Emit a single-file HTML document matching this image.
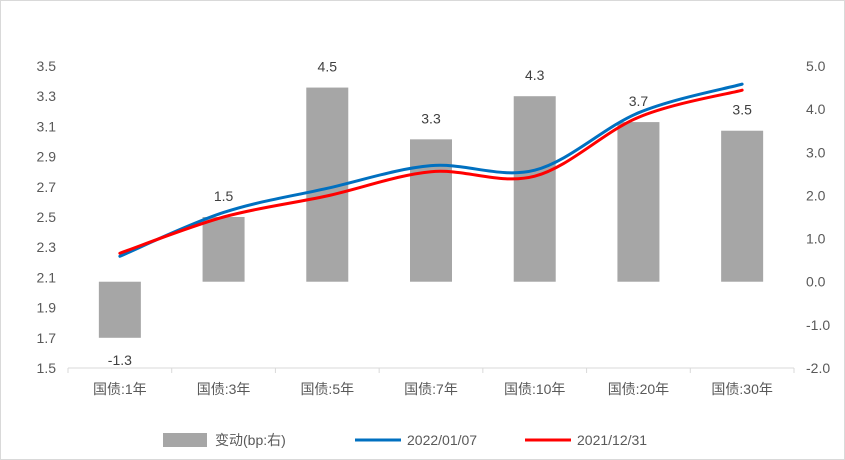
<!DOCTYPE html>
<html><head><meta charset="utf-8"><style>
body{margin:0;background:#fff;}
svg{display:block;font-family:"Liberation Sans","Noto Sans CJK SC",sans-serif;}
</style></head><body>
<svg id="c" width="845" height="460">
<rect x="0.5" y="0.5" width="844" height="459" fill="#fff" stroke="#d9d9d9"/>
<g id="g"></g>
</svg>
<script>
const categories=["国债:1年","国债:3年","国债:5年","国债:7年","国债:10年","国债:20年","国债:30年"];
const changeBp=[-1.3,1.5,4.5,3.3,4.3,3.7,3.5];
const yield20220107=[2.24,2.53,2.69,2.84,2.81,3.19,3.38];
const yield20211231=[2.26,2.50,2.64,2.80,2.77,3.16,3.34];
const leftTicks=[1.5,1.7,1.9,2.1,2.3,2.5,2.7,2.9,3.1,3.3,3.5];
const rightTicks=[-2.0,-1.0,0.0,1.0,2.0,3.0,4.0,5.0];
const NS="http://www.w3.org/2000/svg";
const g=document.getElementById('g');
const x0=68,x1=794,yT=66,yB=368;
const band=(x1-x0)/categories.length;
const xc=i=>x0+band*(i+0.5);
const yL=v=>yB-(v-1.5)/(3.5-1.5)*(yB-yT);
const yR=v=>yB-(v+2)/(5+2)*(yB-yT);
function mk(t,a,txt){const e=document.createElementNS(NS,t);for(const k in a)e.setAttribute(k,a[k]);if(txt!==undefined)e.textContent=txt;g.appendChild(e);return e;}
// x axis line
let ax=mk('line',{x1:x0,x2:x1,y1:yB,y2:yB,stroke:'#d9d9d9'});


for(let i=0;i<=categories.length;i++){const t=mk('line',{x1:x0+band*i,x2:x0+band*i,y1:yB,y2:yB+5,stroke:'#d9d9d9'});

}
leftTicks.forEach(v=>{const t=mk('text',{x:56,y:yL(v)+5,'text-anchor':'end','font-size':14,fill:'#595959'},v.toFixed(1));

});
rightTicks.forEach(v=>{const t=mk('text',{x:806,y:yR(v)+5,'font-size':14,fill:'#595959'},v.toFixed(1));

});
categories.forEach((c,i)=>{const t=mk('text',{x:xc(i),y:yB+26,'text-anchor':'middle','font-size':14,fill:'#595959'},c);

});
const bw=42;
changeBp.forEach((v,i)=>{const y0=yR(0),y=yR(v);
const r=mk('rect',{x:xc(i)-bw/2,y:Math.min(y0,y),width:bw,height:Math.abs(y-y0),fill:'#a6a6a6'});


const ly=v>=0?y-16:y+27;
const t=mk('text',{x:xc(i),y:ly,'text-anchor':'middle','font-size':14,fill:'#404040'},v.toFixed(1));

});
function smooth(vals){const p=vals.map((v,i)=>[xc(i),yL(v)]);let d=`M${p[0][0]},${p[0][1]}`;
for(let i=0;i<p.length-1;i++){const a=p[i-1]||p[i],b=p[i],c=p[i+1],e=p[i+2]||c;
d+=` C${b[0]+(c[0]-a[0])/6},${b[1]+(c[1]-a[1])/6} ${c[0]-(e[0]-b[0])/6},${c[1]-(e[1]-b[1])/6} ${c[0]},${c[1]}`;}return d;}
const l1=mk('path',{d:smooth(yield20220107),fill:'none',stroke:'#0070c0','stroke-width':3,'stroke-linecap':'round'});


const l2=mk('path',{d:smooth(yield20211231),fill:'none',stroke:'#ff0000','stroke-width':3,'stroke-linecap':'round'});


// legend
const lg=[['rect',163,'变动(bp:右)','#a6a6a6','legend-change'],['line',355,'2022/01/07','#0070c0','legend-2022-01-07'],['line',525,'2021/12/31','#ff0000','legend-2021-12-31']];
lg.forEach(([k,x,txt,col,n])=>{let m;
if(k==='rect')m=mk('rect',{x:x,y:433,width:44,height:14,fill:col});
else m=mk('line',{x1:x,x2:x+46,y1:440,y2:440,stroke:col,'stroke-width':3});


const t=mk('text',{x:x+52,y:445,'font-size':14,fill:'#595959'},txt);

});
</script>
</body></html>
